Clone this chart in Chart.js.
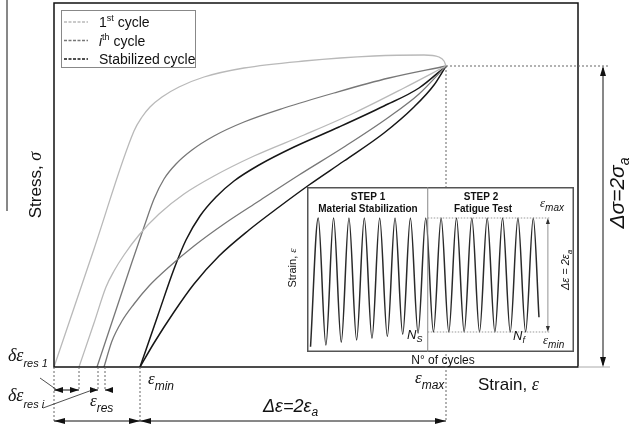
<!DOCTYPE html>
<html>
<head>
<meta charset="utf-8">
<script src="https://cdn.jsdelivr.net/npm/chart.js@4.4.1/dist/chart.umd.min.js"></script>
<style>
  html, body { margin: 0; padding: 0; background: #fff; }
  #wrap { position: relative; width: 629px; height: 428px; overflow: hidden; }
  #main { position: absolute; left: 0; top: 0; }
  #inset { position: absolute; left: 307px; top: 187px; }
</style>
</head>
<body>
<div id="wrap">
  <canvas id="main" width="629" height="428"></canvas>
  <canvas id="inset" width="267" height="165"></canvas>
</div>
<script>
// ---- main stress-strain loops (strain on x, stress on y) ----
const firstLoadX = [0, 40, 80, 88, 96, 108, 125, 150, 190, 250, 320, 370, 385, 390, 392];
const firstLoadY = [0, 118, 236, 250, 260, 270, 280, 290, 299, 306, 311, 312, 310, 306, 301];
const firstBackX = [25, 40, 52, 60, 70, 85, 105, 130, 160, 200, 250, 300, 350, 392];
const firstBackY = [0, 44, 80, 96, 112, 132, 153, 173, 191, 211, 232, 254, 279, 301];
const ithLoadX = [43, 60, 78, 90, 100, 110, 122, 138, 160, 190, 230, 280, 335, 392];
const ithLoadY = [0, 51, 105, 140, 168, 188, 203, 217, 231, 245, 259, 274, 289, 301];
const ithBackX = [50, 58, 68, 80, 95, 115, 140, 170, 205, 245, 290, 335, 365, 392];
const ithBackY = [0, 26, 46, 63, 81, 100, 121, 143, 166, 192, 220, 250, 273, 301];
const stabLoadX = [86, 104, 120, 132, 146, 162, 180, 205, 240, 285, 330, 365, 392];
const stabLoadY = [0, 52, 98, 127, 151, 170, 186, 202, 220, 240, 261, 279, 301];
const stabBackX = [86, 100, 120, 140, 165, 195, 225, 255, 290, 330, 360, 380, 392];
const stabBackY = [0, 24, 55, 83, 111, 137, 160, 182, 206, 234, 260, 282, 301];

// characteristic strains / stress
const residualStrains = [0, 25, 44, 51];
const strainMin = 86;
const strainMax = 392;
const stressMax = 301;

// ---- inset: strain history vs number of cycles ----
const waveN = [0, 0.5, 1, 1.5, 2, 2.5, 3, 3.5, 4, 4.5, 5, 5.5, 6, 6.5, 7, 7.5,
               8, 8.5, 9, 9.5, 10, 10.5, 11, 11.5, 12, 12.5, 13, 13.5, 14, 14.5, 14.87];
const waveStrain = [-1.26, 1, -1.23, 1, -1.18, 1, -1.14, 1, -1.11, 1, -1.08, 1, -1.04, 1, -1.02, 1,
                    -1, 1, -1, 1, -1, 1, -1, 1, -1, 1, -1, 1, -1, 1, -0.74];
const stabilizedAt = 7.63;   // Ns / Nf split
const testEnd = 15.6;

const legendLabels = ['1st cycle', 'ith cycle', 'Stabilized cycle'];

const sans = '"Liberation Sans", Arial, sans-serif';
const serif = '"Liberation Serif", "Times New Roman", serif';
const LIGHT = '#b9b9b9', MID = '#777777', DARK = '#161616';

function pts(xs, ys) {
    return xs.map((x, i) => ({ x: x, y: ys[i] }));
}

function rich(ctx, x, y, parts, align) {
    let total = 0;
    parts.forEach(p => { ctx.font = p[1]; total += ctx.measureText(p[0]).width; });
    let cx = align === 'center' ? x - total / 2 : (align === 'right' ? x - total : x);
    ctx.textAlign = 'left';
    ctx.textBaseline = 'alphabetic';
    parts.forEach(p => {
        ctx.font = p[1];
        ctx.fillText(p[0], cx, y + (p[2] || 0));
        cx += ctx.measureText(p[0]).width;
    });
}

function richUp(ctx, cx, cy, parts, half) {
    ctx.save();
    ctx.translate(cx, cy);
    ctx.rotate(-Math.PI / 2);
    rich(ctx, 0, half, parts, 'center');
    ctx.restore();
}

function line(ctx, x1, y1, x2, y2, color, width, dash) {
    ctx.save();
    ctx.strokeStyle = color;
    ctx.lineWidth = width;
    ctx.setLineDash(dash || []);
    ctx.beginPath();
    ctx.moveTo(x1, y1);
    ctx.lineTo(x2, y2);
    ctx.stroke();
    ctx.restore();
}

// filled arrow head, tip at (x, y), pointing along angle a
function head(ctx, x, y, a, len, w, color) {
    const c = Math.cos(a), s = Math.sin(a);
    ctx.save();
    ctx.fillStyle = color;
    ctx.beginPath();
    ctx.moveTo(x, y);
    ctx.lineTo(x - len * c + w * s, y - len * s - w * c);
    ctx.lineTo(x - len * c - w * s, y - len * s + w * c);
    ctx.closePath();
    ctx.fill();
    ctx.restore();
}

const mainDeco = {
    id: 'mainDeco',
    afterDraw(chart) {
        const ctx = chart.ctx;
        const ca = chart.chartArea;
        const X = v => chart.scales.x.getPixelForValue(v);
        const Y = v => chart.scales.y.getPixelForValue(v);
        const dot = [2, 2];

        // stray rule at the far left of the figure
        line(ctx, 7, 0, 7, 211, '#111', 1);

        // plot frame
        ctx.save();
        ctx.strokeStyle = '#111';
        ctx.lineWidth = 1.5;
        ctx.strokeRect(ca.left, ca.top, ca.right - ca.left, ca.bottom - ca.top);
        ctx.restore();

        // dotted guides
        residualStrains.forEach((r, i) => {
            line(ctx, X(r), Y(0), X(r), Y(i === 0 ? -55 : -24), '#666', 1, dot);
        });
        line(ctx, X(strainMin), Y(0), X(strainMin), Y(-55), '#666', 1, dot);
        line(ctx, X(strainMax), Y(stressMax), X(strainMax), Y(-55), '#666', 1, dot);
        line(ctx, X(strainMax), Y(stressMax), X(556), Y(stressMax), '#666', 1, dot);
        line(ctx, X(524), Y(0), X(556), Y(0), '#aaa', 1);

        // stress range arrow
        line(ctx, X(549), Y(stressMax) + 2, X(549), Y(0) - 2, '#111', 1);
        head(ctx, X(549), Y(stressMax), -Math.PI / 2, 10, 3, '#111');
        head(ctx, X(549), Y(0), Math.PI / 2, 10, 3, '#111');

        // residual strain arrows
        const ry = Y(-23);
        line(ctx, X(residualStrains[0]), ry, X(residualStrains[1]), ry, '#111', 1);
        head(ctx, X(residualStrains[0]), ry, Math.PI, 9, 3, '#111');
        head(ctx, X(residualStrains[1]), ry, 0, 9, 3, '#111');
        line(ctx, X(36), ry, X(residualStrains[2]), ry, '#111', 1);
        head(ctx, X(residualStrains[2]), ry, 0, 8, 3, '#111');
        line(ctx, X(59), ry, X(residualStrains[3]), ry, '#111', 1);
        head(ctx, X(residualStrains[3]), ry, Math.PI, 8, 3, '#111');

        // strain range arrows
        const by = Y(-54);
        line(ctx, X(0), by, X(strainMin), by, '#111', 1);
        head(ctx, X(0), by, Math.PI, 11, 3, '#111');
        head(ctx, X(strainMin), by, 0, 11, 3, '#111');
        line(ctx, X(strainMin), by, X(strainMax), by, '#111', 1);
        head(ctx, X(strainMin), by, Math.PI, 11, 3, '#111');
        head(ctx, X(strainMax), by, 0, 11, 3, '#111');

        // leader lines
        line(ctx, 40, 378, 57, 390, '#222', 0.8);
        line(ctx, 43, 408, 95, 389, '#222', 0.8);

        ctx.fillStyle = '#111';
        const g = (s) => 'italic ' + s + 'px ' + serif;
        const it = (s) => 'italic ' + s + 'px ' + sans;
        const n = (s) => s + 'px ' + sans;

        // axis titles
        richUp(ctx, 35, 185, [['Stress, ', n(17)], ['σ', g(18)]], 6);
        rich(ctx, 478, 390, [['Strain, ', n(17)], ['ε', g(18)]]);
        richUp(ctx, 617, 193, [['Δσ=2σ', it(21)], ['a', it(14), 5]], 7);

        // strain annotations
        rich(ctx, 8, 361, [['δε', g(18)], ['res 1', it(11), 6]]);
        rich(ctx, 8, 401, [['δε', g(18)], ['res i', it(11), 7]]);
        rich(ctx, 90, 406, [['ε', g(17)], ['res', it(12), 6]]);
        rich(ctx, 148, 384, [['ε', g(17)], ['min', it(12), 6]]);
        rich(ctx, 415, 383, [['ε', g(17)], ['max', it(12), 6]]);
        rich(ctx, 263, 412, [['Δε=2ε', it(18)], ['a', it(12), 4]]);

        // inset side labels
        richUp(ctx, 292, 268, [['Strain, ', n(11)], ['ε', g(11)]], 4);
        rich(ctx, 443, 364, [['N° of cycles', n(12)]], 'center');

        // legend
        ctx.save();
        ctx.fillStyle = '#fff';
        ctx.fillRect(61, 10, 134, 57);
        ctx.strokeStyle = '#888';
        ctx.lineWidth = 1;
        ctx.strokeRect(61.5, 10.5, 134, 57);
        ctx.restore();
        const legendColors = [LIGHT, MID, DARK];
        const rows = [27, 45.5, 64];
        legendColors.forEach((c, i) => {
            line(ctx, 64, rows[i] - 5, 88, rows[i] - 5, c, 1.4, [3, 1.5]);
        });
        ctx.fillStyle = '#111';
        rich(ctx, 99, rows[0], [[legendLabels[0].slice(0, 1), n(14)], ['st', n(9), -6], [' cycle', n(14)]]);
        rich(ctx, 99, rows[1], [[legendLabels[1].slice(0, 1), it(14)], ['th', n(9), -6], [' cycle', n(14)]]);
        rich(ctx, 99, rows[2], [[legendLabels[2], n(14)]]);
    }
};

new Chart(document.getElementById('main').getContext('2d'), {
    type: 'line',
    data: {
        datasets: [
            { data: pts(firstLoadX, firstLoadY), borderColor: LIGHT, borderWidth: 1.3 },
            { data: pts(firstBackX, firstBackY), borderColor: LIGHT, borderWidth: 1.3 },
            { data: pts(ithLoadX, ithLoadY), borderColor: MID, borderWidth: 1.3 },
            { data: pts(ithBackX, ithBackY), borderColor: MID, borderWidth: 1.3 },
            { data: pts(stabLoadX, stabLoadY), borderColor: DARK, borderWidth: 1.5 },
            { data: pts(stabBackX, stabBackY), borderColor: DARK, borderWidth: 1.5 },
        ],
    },
    options: {
        responsive: false,
        animation: false,
        devicePixelRatio: 1,
        layout: { padding: { left: 54, top: 3, right: 51, bottom: 61 } },
        scales: {
            x: { type: 'linear', min: 0, max: 524, display: false },
            y: { type: 'linear', min: 0, max: 364, display: false },
        },
        elements: {
            point: { radius: 0 },
            line: { cubicInterpolationMode: 'monotone', fill: false },
        },
        plugins: { legend: { display: false }, tooltip: { enabled: false } },
    },
    plugins: [mainDeco],
});

const insetDeco = {
    id: 'insetDeco',
    beforeDraw(chart) {
        const ctx = chart.ctx;
        ctx.save();
        ctx.fillStyle = '#fff';
        ctx.fillRect(0, 0, chart.width, chart.height);
        ctx.restore();
    },
    afterDraw(chart) {
        const ctx = chart.ctx;
        const X = v => chart.scales.x.getPixelForValue(v);
        const Y = v => chart.scales.y.getPixelForValue(v);
        const w = chart.width, h = chart.height;

        ctx.save();
        ctx.strokeStyle = '#555';
        ctx.lineWidth = 1.5;
        ctx.strokeRect(0.75, 0.75, w - 1.5, h - 1.5);
        ctx.restore();

        line(ctx, X(stabilizedAt), 0, X(stabilizedAt), h, '#888', 1);
        line(ctx, X(stabilizedAt), Y(1), X(testEnd), Y(1), '#999', 1, [1.5, 1.5]);
        line(ctx, X(stabilizedAt), Y(-1), X(testEnd), Y(-1), '#999', 1, [1.5, 1.5]);

        const ax = X(15.45);
        line(ctx, ax, Y(1) + 2, ax, Y(-1) - 2, '#777', 0.8);
        head(ctx, ax, Y(1), -Math.PI / 2, 6, 2, '#333');
        head(ctx, ax, Y(-1), Math.PI / 2, 6, 2, '#333');

        const b = s => 'bold ' + s + 'px ' + sans;
        const it = s => 'italic ' + s + 'px ' + sans;
        const g = s => 'italic ' + s + 'px ' + serif;
        ctx.fillStyle = '#111';
        rich(ctx, 61, 13, [['STEP 1', b(10)]], 'center');
        rich(ctx, 61, 25, [['Material Stabilization', b(10)]], 'center');
        rich(ctx, 174, 13, [['STEP 2', b(10)]], 'center');
        rich(ctx, 176, 25, [['Fatigue Test', b(10)]], 'center');
        rich(ctx, 233, 20, [['ε', g(13)], ['max', it(10), 4]]);
        rich(ctx, 236, 157, [['ε', g(13)], ['min', it(10), 4]]);
        rich(ctx, 100, 152, [['N', it(13)], ['S', it(9), 3]]);
        rich(ctx, 206, 153, [['N', it(13)], ['f', it(9), 3]]);
        richUp(ctx, 258, 83, [['Δε = 2ε', it(11)], ['a', it(8), 3]], 4);
    }
};

new Chart(document.getElementById('inset').getContext('2d'), {
    type: 'line',
    data: {
        datasets: [{
            data: pts(waveN, waveStrain),
            borderColor: '#2a2a2a',
            borderWidth: 1.5,
        }],
    },
    options: {
        responsive: false,
        animation: false,
        devicePixelRatio: 1,
        layout: { padding: 0 },
        scales: {
            x: { type: 'linear', min: -0.23, max: 17.15, display: false },
            y: { type: 'linear', min: -1.351, max: 1.544, display: false },
        },
        elements: {
            point: { radius: 0 },
            line: { cubicInterpolationMode: 'monotone', fill: false },
        },
        plugins: { legend: { display: false }, tooltip: { enabled: false } },
    },
    plugins: [insetDeco],
});
</script>
</body>
</html>
